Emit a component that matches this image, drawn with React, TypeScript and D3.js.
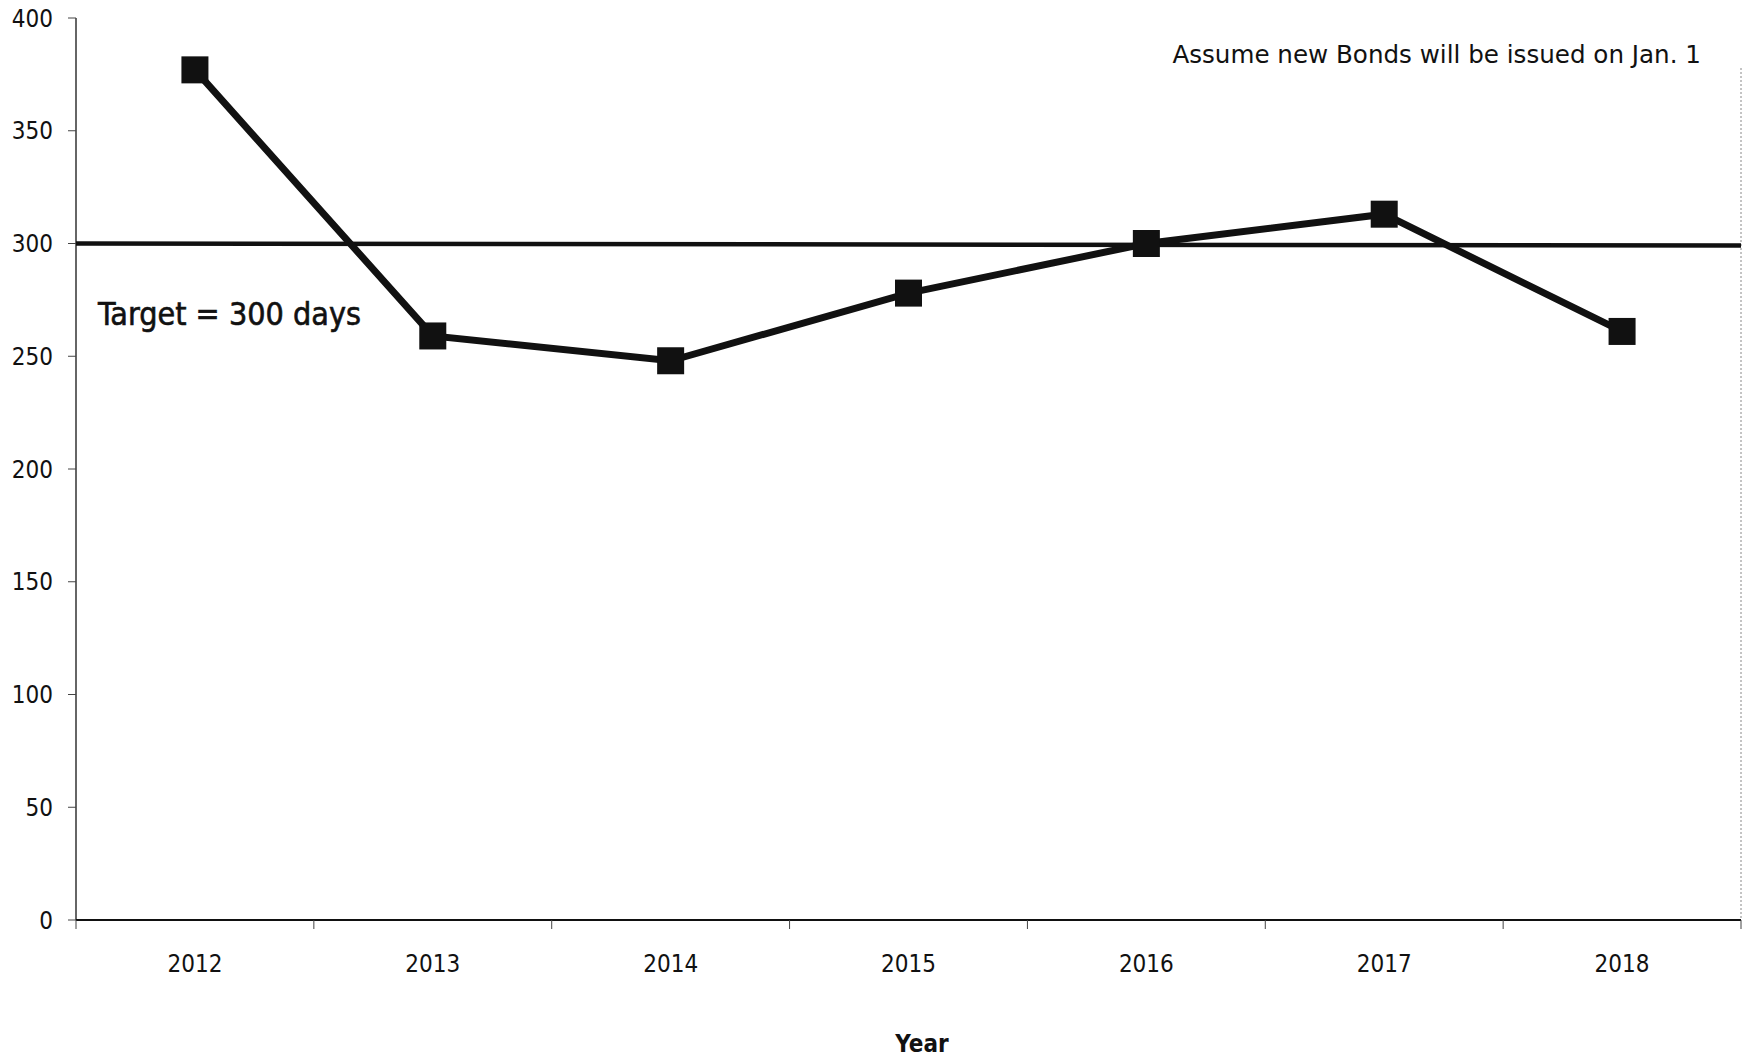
import React from "react";
import * as d3 from "d3";

const years = ["2012", "2013", "2014", "2015", "2016", "2017", "2018"];
const values = [377, 259, 248, 278, 300, 313, 261];
const target = 300;
const yTicks = [0, 50, 100, 150, 200, 250, 300, 350, 400];
const annotation = "Assume new Bonds will be issued on Jan. 1";
const targetLabel = "Target = 300 days";
const xTitle = "Year";

const W = 1752;
const H = 1061;
const M = { left: 76, right: 1741, top: 18, bottom: 920 };
const FONT = "'DejaVu Sans Condensed', 'DejaVu Sans', sans-serif";

export default function App() {
  const x = d3.scaleBand<string>().domain(years).range([M.left, M.right]).paddingInner(0).paddingOuter(0);
  const y = d3.scaleLinear().domain([0, 400]).range([M.bottom, M.top]);
  const cx = (d: string) => (x(d) as number) + x.bandwidth() / 2;
  const line = d3
    .line<number>()
    .x((_, i) => cx(years[i]))
    .y((v) => y(v));
  const boundaries = [...years.map((d) => x(d) as number), M.right];
  const ms = 27;

  return (
    <svg
      width={W}
      height={H}
      style={{ position: "absolute", left: 0, top: 0, background: "#fff" }}
      fontFamily={FONT}
      fontStretch="condensed"
    >
      {/* right border */}
      <line x1={M.right} x2={M.right} y1={M.top + 50} y2={M.bottom} stroke="#888" strokeWidth={1} strokeDasharray="2,2" />
      {/* y axis */}
      <line x1={M.left} x2={M.left} y1={M.top} y2={M.bottom} stroke="#333" strokeWidth={1.5} />
      {yTicks.map((t) => (
        <g key={t}>
          <line x1={M.left - 8} x2={M.left} y1={y(t)} y2={y(t)} stroke="#444" strokeWidth={1} />
          <text x={53} y={y(t)} dy="0.36em" textAnchor="end" fontSize={24} fill="#111">
            {t}
          </text>
        </g>
      ))}
      {/* x axis */}
      <line x1={M.left} x2={M.right} y1={M.bottom} y2={M.bottom} stroke="#111" strokeWidth={2} />
      {boundaries.map((b, i) => (
        <line key={i} x1={b} x2={b} y1={M.bottom} y2={M.bottom + 9} stroke="#444" strokeWidth={1} />
      ))}
      {years.map((d) => (
        <text key={d} x={cx(d)} y={972} textAnchor="middle" fontSize={24} fill="#111">
          {d}
        </text>
      ))}
      <text x={922} y={1052} textAnchor="middle" fontSize={24} fontWeight="bold" fill="#111">
        {xTitle}
      </text>
      {/* target line */}
      <line x1={M.left} x2={M.right} y1={y(target)} y2={y(target) + 2} stroke="#111" strokeWidth={4.5} />
      <text x={98} y={325} fontSize={32} fill="#111" stroke="#111" strokeWidth={0.6}>
        {targetLabel}
      </text>
      <text
        x={1701}
        y={63}
        textAnchor="end"
        fontSize={24.6}
        fill="#111"
        fontFamily="'DejaVu Sans', sans-serif"
        fontStretch="normal"
      >
        {annotation}
      </text>
      {/* series */}
      <path d={line(values) as string} fill="none" stroke="#111" strokeWidth={7} strokeLinejoin="miter" />
      {values.map((v, i) => (
        <rect key={i} x={cx(years[i]) - ms / 2} y={y(v) - ms / 2} width={ms} height={ms} fill="#111" />
      ))}
    </svg>
  );
}
